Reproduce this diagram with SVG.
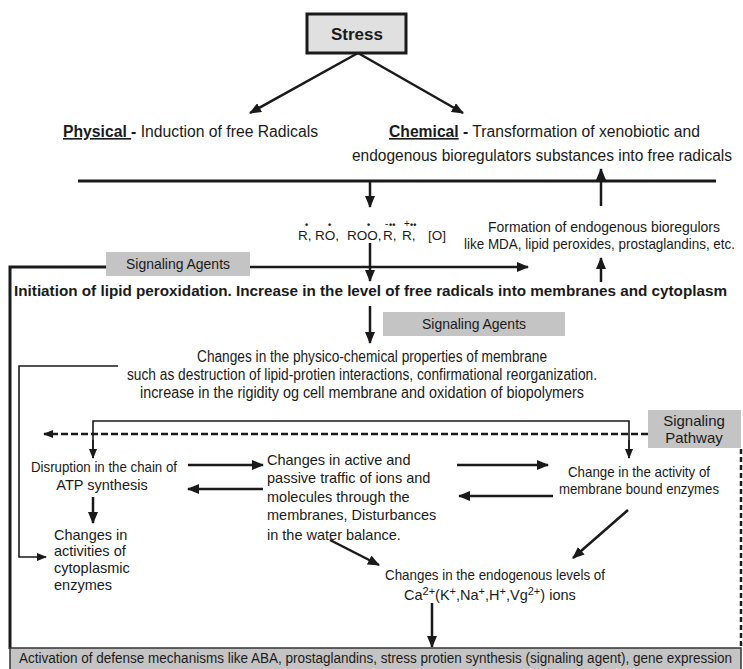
<svg xmlns="http://www.w3.org/2000/svg" width="743" height="669" viewBox="0 0 743 669">
<defs>
<marker id="ah" markerUnits="userSpaceOnUse" markerWidth="12" markerHeight="10" refX="11" refY="5" orient="auto">
<path d="M0,0 L12,5 L0,10 Z" fill="#1a1a1a"/>
</marker>
<marker id="ahs" markerUnits="userSpaceOnUse" markerWidth="10" markerHeight="8" refX="9" refY="4" orient="auto">
<path d="M0,0 L10,4 L0,8 Z" fill="#1a1a1a"/>
</marker>
</defs>
<style>
text{font-family:"Liberation Sans Narrow","Liberation Sans",Arial,sans-serif;fill:#1a1a1a;}
.n{font-size:15px;}
.r{font-family:"Liberation Sans",Arial,sans-serif;font-size:14.5px;}
.b{font-weight:bold;}
.c{text-anchor:middle;}
.ln{stroke:#1a1a1a;fill:none;}
.th{stroke-width:3;}
.md{stroke-width:2.5;}
.tn{stroke-width:1.6;}
.gbox{fill:#c4c4c4;stroke:none;}
.dot{font-family:"Liberation Sans",Arial,sans-serif;font-size:9px;font-weight:bold;}
</style>
<rect width="743" height="669" fill="#ffffff"/>

<g id="connectors">
<line class="ln md" x1="358" y1="53" x2="250" y2="113" marker-end="url(#ah)"/>
<line class="ln md" x1="358" y1="53" x2="463" y2="113" marker-end="url(#ah)"/>
<line class="ln th" x1="78" y1="181" x2="716" y2="181"/>
<line class="ln md" x1="370" y1="182" x2="370" y2="207" marker-end="url(#ah)"/>
<line class="ln md" x1="601" y1="206" x2="601" y2="169" marker-end="url(#ah)"/>
<line class="ln md" x1="601" y1="282" x2="601" y2="258" marker-end="url(#ah)"/>
<line class="ln md" x1="370" y1="243" x2="370" y2="281" marker-end="url(#ah)"/>
<polyline class="ln th" points="106,267 10,267 10,649"/>
<line class="ln md" x1="250" y1="267" x2="528" y2="267" marker-end="url(#ah)"/>
<line class="ln md" x1="370" y1="306" x2="370" y2="343" marker-end="url(#ah)"/>
<polyline class="ln tn" points="118,366 19,366 19,557 46,557" marker-end="url(#ahs)"/>
<polyline class="ln tn" points="93,458 93,421 629,421 629,458"/>
<line class="ln tn" x1="93" y1="440" x2="93" y2="458" marker-end="url(#ahs)"/>
<line class="ln tn" x1="629" y1="440" x2="629" y2="458" marker-end="url(#ahs)"/>
<line class="ln md" x1="648" y1="434" x2="44" y2="434" stroke-dasharray="7 3" marker-end="url(#ahs)"/>
<line class="ln md" x1="741" y1="449" x2="741" y2="648" stroke-dasharray="5 3"/>
<line class="ln md" x1="188" y1="465" x2="263" y2="465" marker-end="url(#ah)"/>
<line class="ln md" x1="263" y1="489" x2="188" y2="489" marker-end="url(#ah)"/>
<line class="ln md" x1="93" y1="497" x2="93" y2="523" marker-end="url(#ah)"/>
<line class="ln md" x1="457" y1="465" x2="548" y2="465" marker-end="url(#ah)"/>
<line class="ln md" x1="553" y1="496" x2="459" y2="496" marker-end="url(#ah)"/>
<line class="ln md" x1="628" y1="510" x2="573" y2="558" marker-end="url(#ah)"/>
<line class="ln md" x1="330" y1="540" x2="379" y2="565" marker-end="url(#ah)"/>
<line class="ln md" x1="432" y1="603" x2="432" y2="647" marker-end="url(#ah)"/>
</g>

<g id="stress">
<rect x="307" y="14" width="99" height="39" fill="#e0e0e0" stroke="#1a1a1a" stroke-width="3"/>
<text x="357" y="40" class="c b" style="font-size:17px">Stress</text>
</g>

<g id="physical">
<text x="63" y="137" style="font-size:16px" textLength="255" lengthAdjust="spacingAndGlyphs"><tspan class="b" text-decoration="underline">Physical </tspan><tspan class="b">-</tspan> Induction of free Radicals</text>
</g>

<g id="chemical">
<text x="389" y="137" style="font-size:16px" textLength="311" lengthAdjust="spacingAndGlyphs"><tspan class="b" text-decoration="underline">Chemical</tspan><tspan class="b"> -</tspan> Transformation of xenobiotic and</text>
<text x="352" y="161" style="font-size:16px" textLength="380" lengthAdjust="spacingAndGlyphs">endogenous bioregulators substances into free radicals</text>
</g>

<g id="radicals">
<text x="298" y="240" class="r" style="font-size:13.5px">R,</text>
<text x="315" y="240" class="r" style="font-size:13.5px">RO,</text>
<text x="347" y="240" class="r" style="font-size:13.5px">ROO,</text>
<text x="383" y="240" class="r" style="font-size:13.5px">R,</text>
<text x="402" y="240" class="r" style="font-size:13.5px">R,</text>
<text x="428" y="240" class="r" style="font-size:13.5px">[O]</text>
<text x="305" y="228" class="dot">•</text>
<text x="328" y="228" class="dot">•</text>
<text x="367" y="228" class="dot">•</text>
<text x="385" y="227" class="r" style="font-size:10px">-</text>
<text x="389" y="228" class="dot">••</text>
<text x="404" y="227" class="r" style="font-size:10px">+</text>
<text x="410" y="228" class="dot">••</text>
</g>

<g id="formation">
<text x="488" y="232" class="n" textLength="232" lengthAdjust="spacingAndGlyphs">Formation of endogenous bioregulors</text>
<text x="464" y="249" class="n" textLength="271" lengthAdjust="spacingAndGlyphs">like MDA, lipid peroxides, prostaglandins, etc.</text>
</g>

<g id="signaling-agents-1">
<rect class="gbox" x="106" y="252" width="144" height="24"/>
<text x="178" y="269" class="n c" textLength="104" lengthAdjust="spacingAndGlyphs">Signaling Agents</text>
</g>

<g id="initiation">
<text x="14" y="296" class="n b" textLength="713" lengthAdjust="spacingAndGlyphs">Initiation of lipid peroxidation. Increase in the level of free radicals into membranes and cytoplasm</text>
</g>

<g id="signaling-agents-2">
<rect class="gbox" x="383" y="312" width="182" height="24"/>
<text x="474" y="329" class="n c" textLength="104" lengthAdjust="spacingAndGlyphs">Signaling Agents</text>
</g>

<g id="membrane-changes">
<text x="197" y="362" style="font-size:16px" textLength="350" lengthAdjust="spacingAndGlyphs">Changes in the physico-chemical properties of membrane</text>
<text x="127" y="380" style="font-size:16px" textLength="470" lengthAdjust="spacingAndGlyphs">such as destruction of lipid-protien interactions, confirmational reorganization.</text>
<text x="140" y="398" style="font-size:16px" textLength="444" lengthAdjust="spacingAndGlyphs">increase in the rigidity og cell membrane and oxidation of biopolymers</text>
</g>

<g id="signaling-pathway">
<rect class="gbox" x="648" y="410" width="93" height="38"/>
<text x="694" y="426" class="n c">Signaling</text>
<text x="694" y="443" class="n c">Pathway</text>
</g>

<g id="atp">
<text x="104" y="472" class="r c" textLength="146" lengthAdjust="spacingAndGlyphs">Disruption in the chain of</text>
<text x="102" y="490" class="r c">ATP synthesis</text>
</g>

<g id="cytoplasmic">
<text x="54" y="540" class="r">Changes in</text>
<text x="54" y="556" class="r">activities of</text>
<text x="54" y="573" class="r">cytoplasmic</text>
<text x="54" y="590" class="r">enzymes</text>
</g>

<g id="traffic">
<text x="267" y="465" class="r">Changes in active and</text>
<text x="267" y="483" class="r">passive traffic of ions and</text>
<text x="267" y="502" class="r">molecules through the</text>
<text x="267" y="520" class="r">membranes, Disturbances</text>
<text x="267" y="540" class="r">in the water balance.</text>
</g>

<g id="membrane-enzymes">
<text x="568" y="477" class="r" textLength="142" lengthAdjust="spacingAndGlyphs">Change in the activity of</text>
<text x="559" y="494" class="r" textLength="160" lengthAdjust="spacingAndGlyphs">membrane bound enzymes</text>
</g>

<g id="ions">
<text x="385" y="580" class="r" textLength="220" lengthAdjust="spacingAndGlyphs">Changes in the endogenous levels of</text>
<text x="404" y="600" class="r" style="font-size:14.5px">Ca<tspan dy="-5" style="font-size:11px">2+</tspan><tspan dy="5">(K</tspan><tspan dy="-5" style="font-size:11px">+</tspan><tspan dy="5">,Na</tspan><tspan dy="-5" style="font-size:11px">+</tspan><tspan dy="5">,H</tspan><tspan dy="-5" style="font-size:11px">+</tspan><tspan dy="5">,Vg</tspan><tspan dy="-5" style="font-size:11px">2+</tspan><tspan dy="5">) ions</tspan></text>
</g>

<g id="defense">
<rect x="10" y="648" width="731" height="24" fill="#c4c4c4" stroke="#333" stroke-width="1.5"/>
<text x="19" y="663" style="font-size:14px" textLength="713" lengthAdjust="spacingAndGlyphs">Activation of defense mechanisms like ABA, prostaglandins, stress protien synthesis (signaling agent), gene expression</text>
</g>
</svg>
